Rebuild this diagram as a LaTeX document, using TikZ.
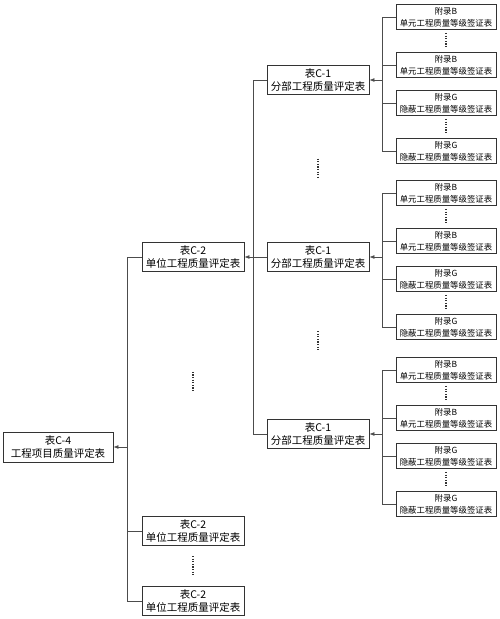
\documentclass[tikz,border=0pt]{standalone}
\usepackage{fontspec}
\newfontfamily\cjk{Noto Sans CJK SC}
\usetikzlibrary{arrows.meta,calc}
\tikzset{
  cbox/.style={draw=black!80, line width=0.9pt, rectangle, align=center, font=\cjk\fontsize{10.5}{13.5}\selectfont, minimum width=102pt, minimum height=29pt, inner sep=1pt, fill=white},
  fbox/.style={draw=black!80, line width=0.9pt, rectangle, align=center, font=\cjk\fontsize{8.4}{12}\selectfont, minimum width=100pt, minimum height=25pt, inner sep=1pt, fill=white},
  ln/.style={draw=black!70, line width=0.7pt},
  arr/.style={ln, -{Latex[length=5pt,width=4pt]}},
  vdot/.style={draw=black!80, line width=1.4pt, dash pattern=on 1.2pt off 1.4pt},
}

\begin{document}
\begin{tikzpicture}[x=1pt, y=-1pt]
\useasboundingbox (0,0) rectangle (500,619);
% project and unit level
\node[cbox, minimum width=110pt, minimum height=30pt] (proj) at (58,447) {表C-4\\工程项目质量评定表};
\node[cbox] (u1) at (193,257) {表C-2\\单位工程质量评定表};
\node[cbox] (u2) at (193,531) {表C-2\\单位工程质量评定表};
\node[cbox] (u3) at (193,601) {表C-2\\单位工程质量评定表};
% sub-part level
\node[cbox] (s1) at (318,80) {表C-1\\分部工程质量评定表};
\node[cbox] (s2) at (318,257) {表C-1\\分部工程质量评定表};
\node[cbox] (s3) at (318,434) {表C-1\\分部工程质量评定表};

\draw[ln] (u1.west) -- ++(-14,0) coordinate (tu) |- (u3.west);
\draw[ln] (u2.west) -- ++(-14,0);
\draw[arr] (tu |- proj.east) -- (proj.east);
\draw[vdot] ($(u1.south)!0.45!(u2.north)+(0,-10)$) -- ++(0,20);
\draw[vdot] ($(u2.south)!0.5!(u3.north)+(0,-10)$) -- ++(0,20);

\draw[ln] (s1.west) -- ++(-13,0) coordinate (ts) |- (s3.west);
\draw[ln] (s2.west) -- ++(-13,0);
\draw[arr] (ts |- u1.east) -- (u1.east);
\draw[vdot] ($(s1.south)!0.5!(s2.north)+(0,-10)$) -- ++(0,20);
\draw[vdot] ($(s2.south)!0.47!(s3.north)+(0,-10)$) -- ++(0,20);

% appendix forms
\foreach \g/\y in {1/17, 2/193, 3/370}{
  \node[fbox] (a\g1) at (446,\y) {附录B\\单元工程质量等级签证表};
  \node[fbox] (a\g2) at (446,\y+48) {附录B\\单元工程质量等级签证表};
  \node[fbox] (a\g3) at (446,\y+86) {附录G\\隐蔽工程质量等级签证表};
  \node[fbox] (a\g4) at (446,\y+134) {附录G\\隐蔽工程质量等级签证表};
  \draw[ln] (a\g1.west) -- ++(-13,0) coordinate (t\g) |- (a\g4.west);
  \draw[ln] (a\g2.west) -- ++(-13,0);
  \draw[ln] (a\g3.west) -- ++(-13,0);
  \draw[arr] (t\g |- s\g.east) -- (s\g.east);
  \draw[vdot] ($(a\g1.south)+(0,3)$) -- ($(a\g2.north)+(0,-4)$);
  \draw[vdot] ($(a\g3.south)+(0,3)$) -- ($(a\g4.north)+(0,-4)$);
}
\end{tikzpicture}
\end{document}
